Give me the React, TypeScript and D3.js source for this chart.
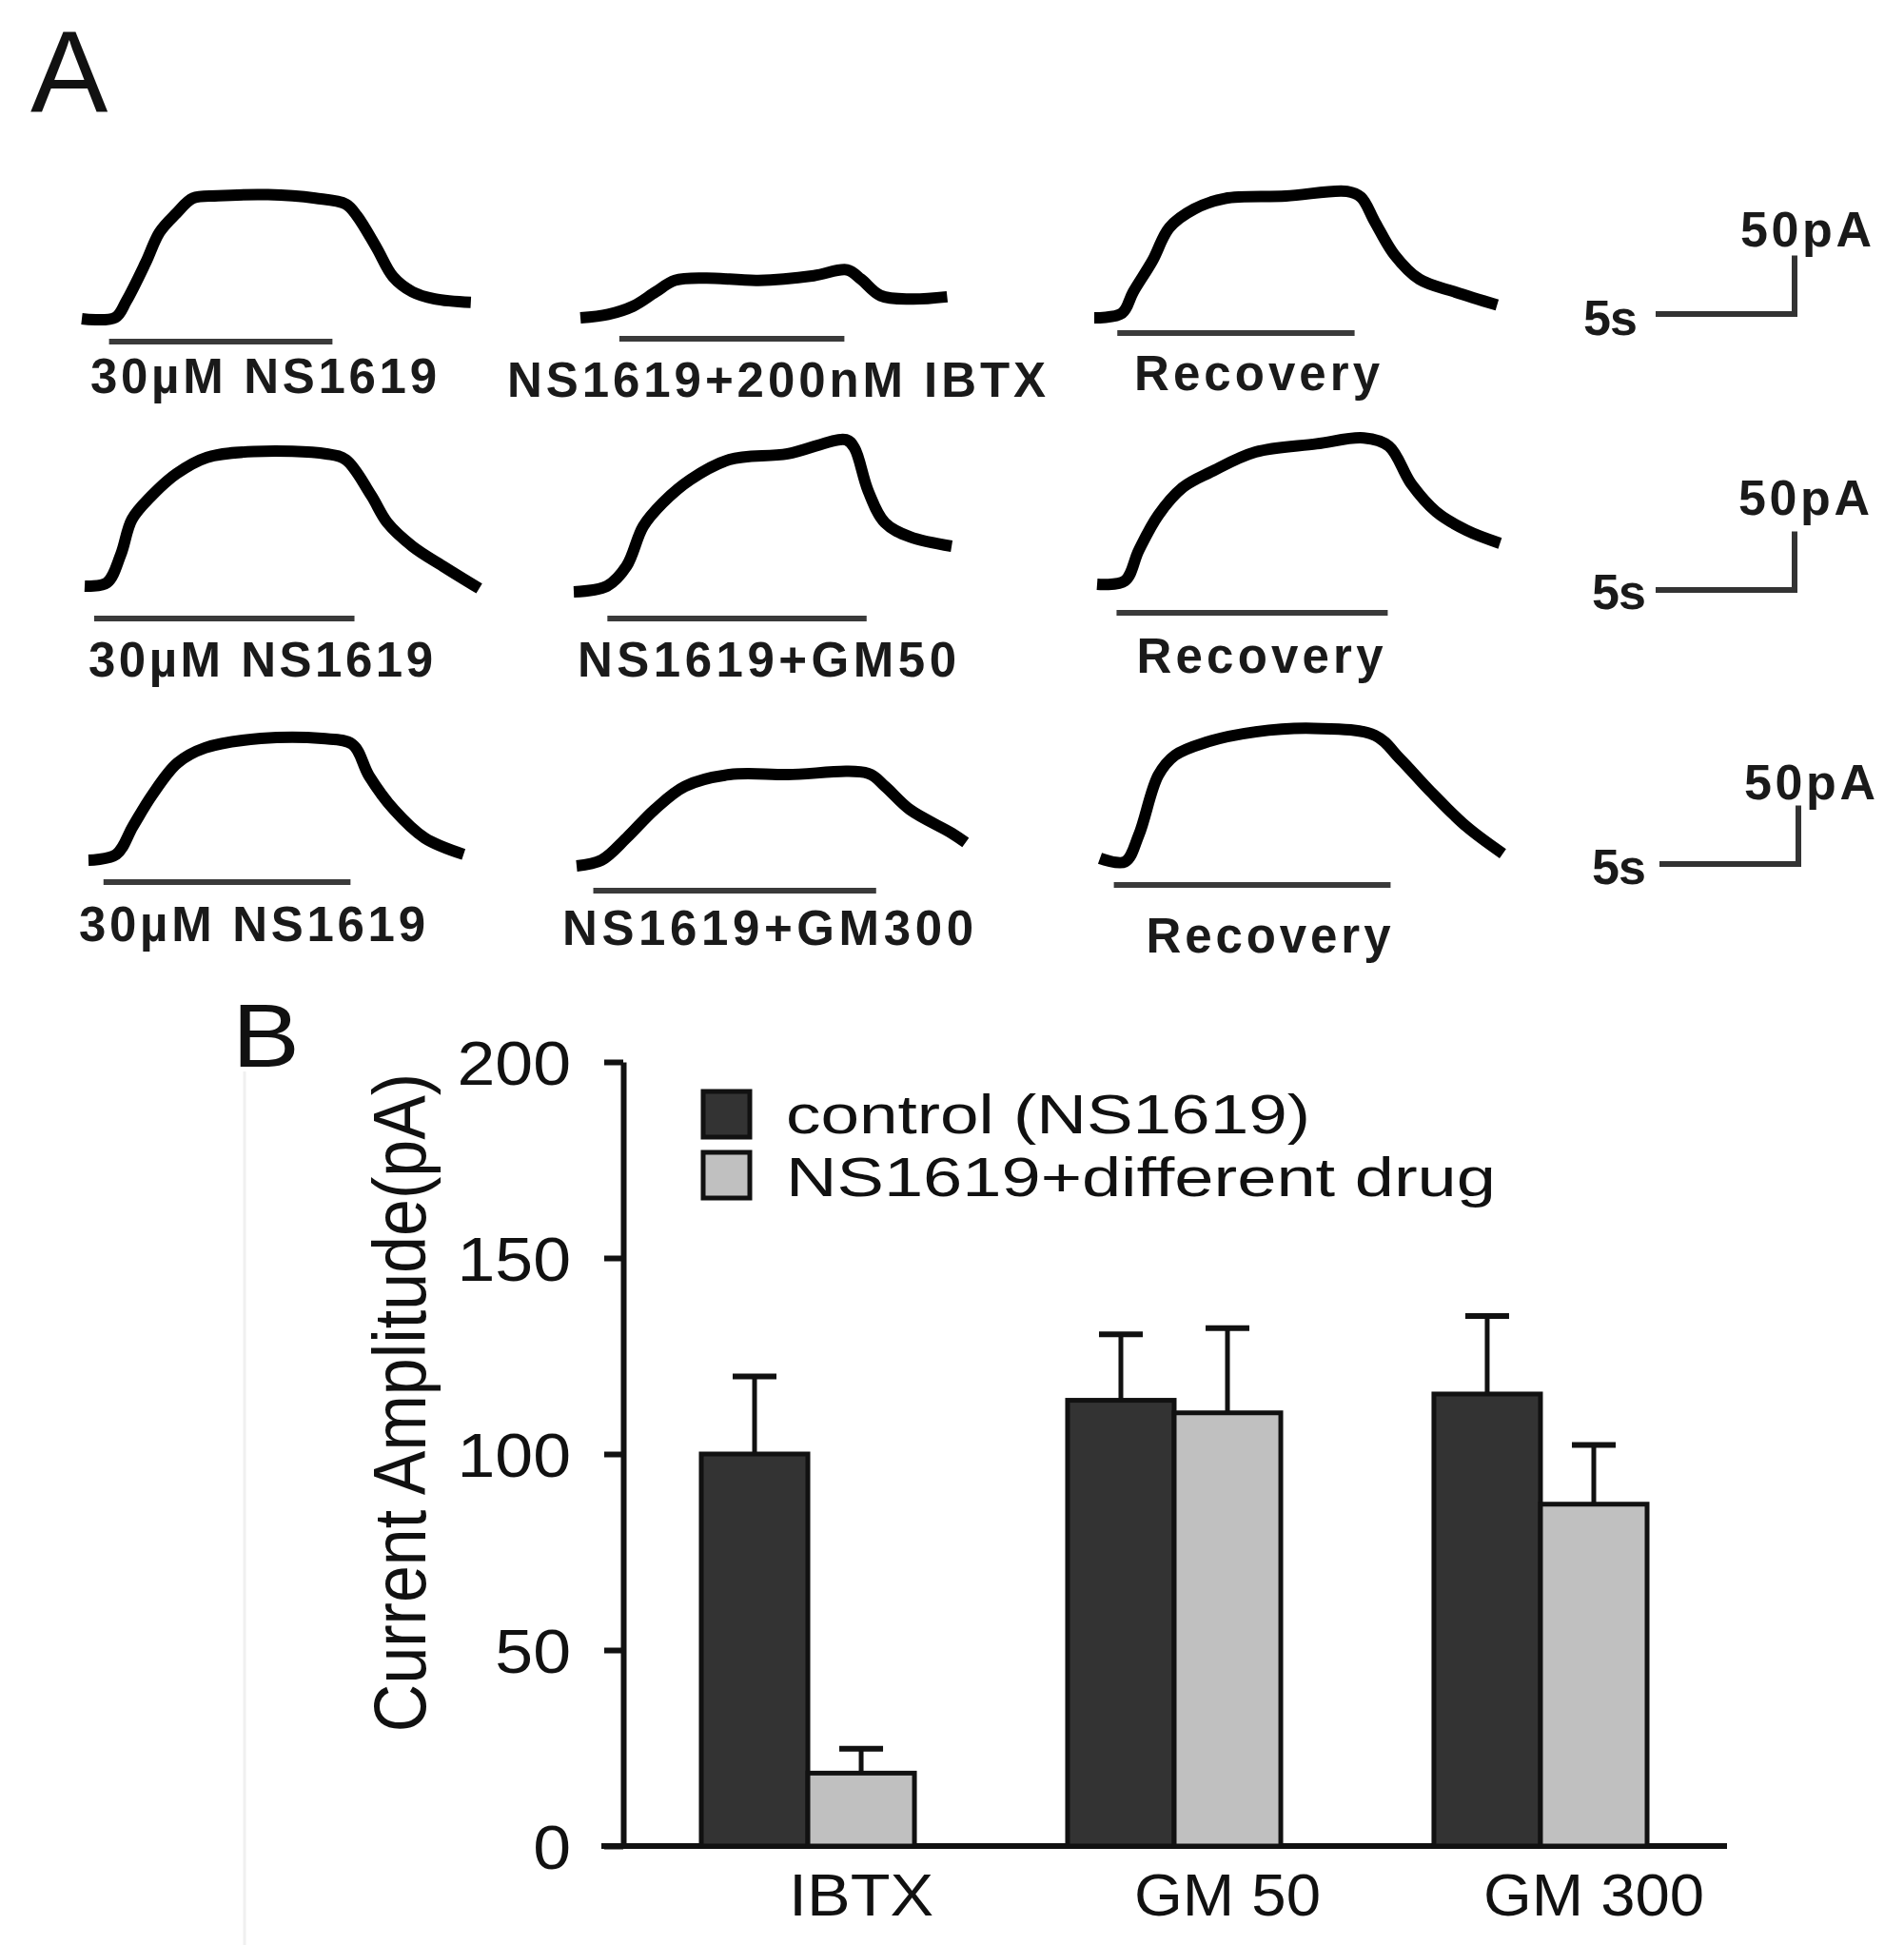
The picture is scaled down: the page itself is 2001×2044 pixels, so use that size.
import React, { useEffect, useRef } from 'react';
import * as d3 from 'd3';

type Pt = [number, number];

// Panel A sweeps: [time (s), current (pA)] measured from the start of each sweep
const ctrlIbtx: Pt[] = [[0, 0], [1.2, 1], [1.6, 15], [2.3, 48], [2.8, 74], [3.4, 90], [4.0, 103], [4.9, 105], [6.7, 106], [8.4, 103], [9.5, 98], [9.9, 88], [10.6, 61], [11.2, 36], [11.9, 23], [12.7, 17], [14.0, 14]];
const ibtx: Pt[] = [[0, 0], [1.0, 3], [1.9, 10], [2.7, 22], [3.4, 32], [4.5, 34], [6.4, 32], [8.4, 36], [9.6, 41], [10.1, 33], [10.8, 19], [11.9, 16], [13.2, 18]];
const recIbtx: Pt[] = [[0, 0], [1.0, 4], [1.4, 22], [2.1, 49], [2.7, 77], [3.6, 93], [4.7, 102], [6.9, 104], [9.1, 108], [9.6, 103], [10.1, 82], [10.8, 54], [11.7, 33], [13.0, 22], [14.5, 11]];
const ctrlGm50: Pt[] = [[0, 0], [0.8, 3], [1.3, 27], [1.7, 57], [2.4, 77], [3.3, 96], [4.4, 110], [6.1, 115], [8.7, 113], [9.4, 108], [10.3, 78], [10.9, 54], [11.8, 34], [12.9, 17], [14.2, -2]];
const gm50: Pt[] = [[0, 0], [1.2, 5], [1.9, 22], [2.5, 56], [3.2, 76], [4.2, 96], [5.6, 113], [7.7, 118], [9.8, 130], [10.1, 123], [10.6, 86], [11.2, 59], [12.1, 47], [13.6, 39]];
const recGm50: Pt[] = [[0, 0], [1.0, 3], [1.5, 29], [2.2, 59], [3.1, 83], [4.1, 96], [5.7, 113], [7.9, 120], [9.6, 125], [10.5, 118], [11.3, 86], [12.2, 62], [13.3, 46], [14.5, 35]];
const ctrlGm300: Pt[] = [[0, 0], [1.0, 5], [1.6, 29], [2.3, 56], [3.2, 83], [4.2, 96], [6.2, 104], [8.4, 104], [9.5, 99], [10.1, 72], [11.0, 43], [12.1, 19], [13.5, 5]];
const gm300: Pt[] = [[0, 0], [0.9, 5], [1.8, 24], [2.8, 48], [3.9, 68], [5.5, 78], [7.6, 78], [10.5, 79], [11.1, 68], [12.0, 48], [13.5, 28], [14.0, 20]];
const recGm300: Pt[] = [[0, 0], [0.9, -3], [1.4, 20], [2.1, 71], [2.7, 88], [3.8, 99], [5.6, 108], [7.7, 111], [9.9, 105], [10.8, 85], [11.9, 57], [13.2, 27], [14.5, 4]];

const sweeps = [ctrlIbtx, ibtx, recIbtx, ctrlGm50, gm50, recGm50, ctrlGm300, gm300, recGm300];
const sweepLabels = ['30µM NS1619', 'NS1619+200nM IBTX', 'Recovery', '30µM NS1619', 'NS1619+GM50', 'Recovery', '30µM NS1619', 'NS1619+GM300', 'Recovery'];
// drug application (s)
const applyOn = [0.98, 1.4, 0.83, 0.34, 1.21, 0.7, 0.54, 0.6, 0.5];
const applyOff = [9.02, 9.5, 9.37, 9.71, 10.54, 10.46, 9.43, 10.78, 10.46];

// Panel B
const groups = ['IBTX', 'GM 50', 'GM 300'];
const seriesNames = ['control (NS1619)', 'NS1619+different drug'];
const controlMean = [100, 113.7, 115.3];
const controlErr = [19.8, 16.8, 19.9];
const drugMean = [18.6, 110.5, 87.2];
const drugErr = [6.2, 21.6, 15.1];
const yTicks = [0, 50, 100, 150, 200];

// layout (px): sweep start x, baseline y, drug bar y, label centre x, label baseline, label width
const sweepPos = [
  [86, 335, 359, 277, 413, 364],
  [610, 334, 356, 816, 417, 566],
  [1150, 334, 350, 1321, 410, 258],
  [89, 616, 650, 274, 711, 362],
  [603, 622, 650, 806, 711, 398],
  [1153, 614, 644, 1324, 707, 259],
  [93, 904, 927, 265, 989, 364],
  [606, 910, 936, 807, 993, 432],
  [1156, 902, 930, 1333, 1001, 257],
];
// scale bar corner x, y, "50pA" x, baseline, "5s" x, baseline
const scaleBarPos = [
  [1886, 330, 1829, 259, 1664, 352],
  [1886, 620, 1827, 541, 1673, 640],
  [1890, 908, 1833, 840, 1673, 929],
];

const W = 2001;
const H = 2044;
const sansA = '"Liberation Sans Narrow", "Arial Narrow", "Liberation Sans", Arial, sans-serif';
const sansB = '"Liberation Sans", Arial, Helvetica, sans-serif';
const SX = 1.12; // panel B is slightly stretched horizontally

const App: React.FC = () => {
  const svgRef = useRef<SVGSVGElement>(null);

  useEffect(() => {
    if (!svgRef.current) return;
    const svg = d3.select(svgRef.current);
    svg.selectAll('*').remove();

    svg.append('rect').attr('width', W).attr('height', H).attr('fill', '#fff');

    // ---------- panel A ----------
    svg.append('text')
      .attr('x', 32).attr('y', 118)
      .attr('font-family', sansB).attr('font-size', 122)
      .attr('fill', '#111')
      .text('A');

    const t = d3.scaleLinear().domain([0, 5]).range([0, 146]);
    const amp = d3.scaleLinear().domain([0, 50]).range([0, -61.5]);
    const line = d3.line<Pt>()
      .x(d => t(d[0]))
      .y(d => amp(d[1]))
      .curve(d3.curveCatmullRom.alpha(0.5));

    sweeps.forEach((data, k) => {
      const [sx, sy, barY, lx, ly, lw] = sweepPos[k];
      const g = svg.append('g').attr('transform', `translate(${sx},${sy})`);
      g.append('path')
        .datum(data)
        .attr('fill', 'none')
        .attr('stroke', '#000')
        .attr('stroke-width', 12)
        .attr('stroke-linejoin', 'round')
        .attr('d', line);

      svg.append('line')
        .attr('x1', sx + t(applyOn[k])).attr('x2', sx + t(applyOff[k]))
        .attr('y1', barY).attr('y2', barY)
        .attr('stroke', '#3a3a3a').attr('stroke-width', 6);

      svg.append('text')
        .attr('x', lx).attr('y', ly)
        .attr('text-anchor', 'middle')
        .attr('font-family', sansA).attr('font-weight', 'bold')
        .attr('font-size', 51)
        .attr('textLength', lw)
        .attr('fill', '#1a1a1a')
        .text(sweepLabels[k]);
    });

    scaleBarPos.forEach(([cx, cy, ax, ay, sx, sy]) => {
      svg.append('path')
        .attr('d', `M${cx - t(5)},${cy}H${cx}V${cy + amp(50)}`)
        .attr('fill', 'none')
        .attr('stroke', '#333').attr('stroke-width', 6);
      svg.append('text')
        .attr('x', ax).attr('y', ay)
        .attr('font-family', sansA).attr('font-weight', 'bold')
        .attr('font-size', 52).attr('textLength', 138)
        .attr('fill', '#1a1a1a')
        .text('50pA');
      svg.append('text')
        .attr('x', sx).attr('y', sy)
        .attr('font-family', sansA).attr('font-weight', 'bold')
        .attr('font-size', 52).attr('textLength', 57)
        .attr('fill', '#1a1a1a')
        .text('5s');
    });

    // ---------- panel B ----------
    svg.append('line')
      .attr('x1', 257).attr('x2', 257).attr('y1', 1126).attr('y2', H)
      .attr('stroke', '#f0f0f0').attr('stroke-width', 3);

    svg.append('text')
      .attr('transform', `translate(244,1121) scale(${SX},1)`)
      .attr('font-family', sansB).attr('font-size', 95)
      .attr('fill', '#111')
      .text('B');

    const y = d3.scaleLinear().domain([0, 200]).range([1940, 1116]);
    const x0 = d3.scaleBand<string>().domain(groups).range([737, 1731]).paddingInner(0.418);
    const x1 = d3.scaleBand<string>().domain(['c', 'd']).range([0, x0.bandwidth()]);

    const yAxis = svg.append('g')
      .attr('transform', 'translate(655,0)')
      .call(d3.axisLeft(y).tickValues(yTicks).tickSize(20).tickSizeOuter(0).tickPadding(37));
    yAxis.attr('font-size', 64).attr('font-family', sansB).attr('color', '#111');
    yAxis.select('.domain').attr('stroke-width', 6);
    yAxis.selectAll('.tick line').attr('stroke-width', 6);
    yAxis.selectAll<SVGTextElement, number>('.tick text')
      .attr('x', 0)
      .attr('dy', '0.36em')
      .attr('transform', `translate(-55,0) scale(${SX},1)`);

    svg.append('line')
      .attr('x1', 632).attr('x2', 1815)
      .attr('y1', y(0)).attr('y2', y(0))
      .attr('stroke', '#111').attr('stroke-width', 6);

    svg.append('text')
      .attr('transform', `translate(447,1474) scale(${SX},1) rotate(-90)`)
      .attr('text-anchor', 'middle')
      .attr('font-family', sansB).attr('font-size', 70)
      .attr('fill', '#111')
      .text('Current Amplitude(pA)');

    const bars = [
      { key: 'c', mean: controlMean, err: controlErr, fill: '#333333' },
      { key: 'd', mean: drugMean, err: drugErr, fill: '#c0c0c0' },
    ];

    bars.forEach(s => {
      groups.forEach((grp, gi) => {
        const bx = (x0(grp) ?? 0) + (x1(s.key) ?? 0);
        const bw = x1.bandwidth();
        const cx = bx + bw / 2;
        svg.append('line')
          .attr('x1', cx).attr('x2', cx)
          .attr('y1', y(s.mean[gi])).attr('y2', y(s.mean[gi] + s.err[gi]))
          .attr('stroke', '#111').attr('stroke-width', 5);
        svg.append('line')
          .attr('x1', cx - 23).attr('x2', cx + 23)
          .attr('y1', y(s.mean[gi] + s.err[gi])).attr('y2', y(s.mean[gi] + s.err[gi]))
          .attr('stroke', '#111').attr('stroke-width', 6);
        svg.append('rect')
          .attr('x', bx).attr('y', y(s.mean[gi]))
          .attr('width', bw).attr('height', y(0) - y(s.mean[gi]))
          .attr('fill', s.fill)
          .attr('stroke', '#111').attr('stroke-width', 5);
      });
    });

    // x labels sit under the second bar of each group
    const xLabelW = [152, 196, 232];
    groups.forEach((grp, gi) => {
      const cx = (x0(grp) ?? 0) + (x1('d') ?? 0) + x1.bandwidth() / 2;
      svg.append('text')
        .attr('x', cx).attr('y', 2013)
        .attr('text-anchor', 'middle')
        .attr('font-family', sansB).attr('font-size', 63)
        .attr('textLength', xLabelW[gi]).attr('lengthAdjust', 'spacingAndGlyphs')
        .attr('fill', '#111')
        .text(grp);
    });

    // legend
    const legendFill = ['#333333', '#c0c0c0'];
    const legendW = [551, 746];
    seriesNames.forEach((name, i) => {
      const ly = 1147 + i * 64;
      svg.append('rect')
        .attr('x', 739).attr('y', ly).attr('width', 49).attr('height', 48)
        .attr('fill', legendFill[i])
        .attr('stroke', '#111').attr('stroke-width', 5);
      svg.append('text')
        .attr('x', 826).attr('y', ly + 44 + i * 2)
        .attr('font-family', sansB).attr('font-size', 58)
        .attr('textLength', legendW[i]).attr('lengthAdjust', 'spacingAndGlyphs')
        .attr('fill', '#111')
        .text(name);
    });
  }, []);

  return (
    <>
      <style>{'body{margin:0}'}</style>
      <svg ref={svgRef} width={W} height={H} style={{ display: 'block' }}></svg>
    </>
  );
};

export default App;
